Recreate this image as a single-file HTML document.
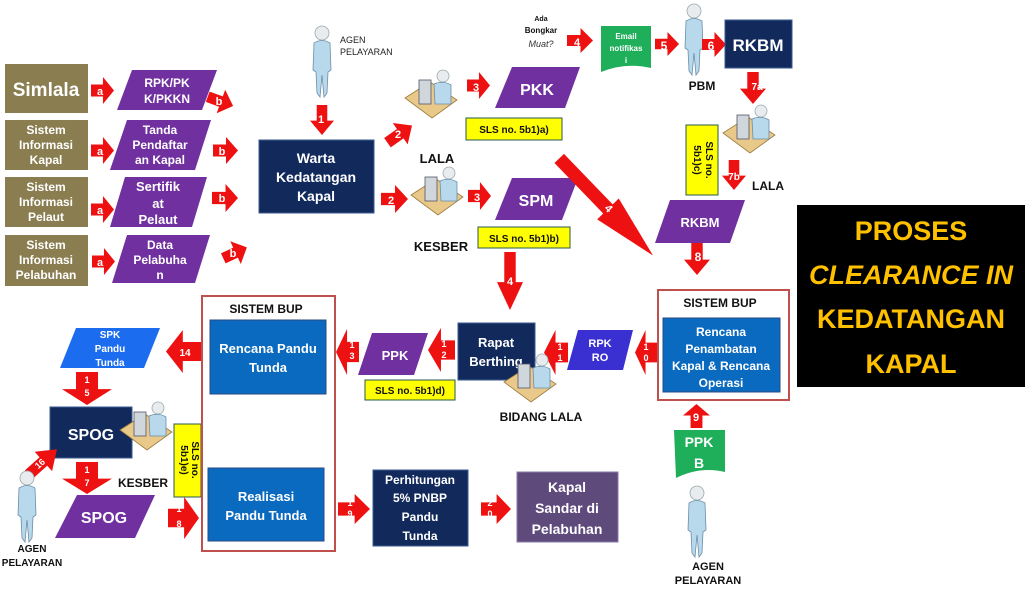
<!DOCTYPE html>
<html><head><meta charset="utf-8"><style>
html,body{margin:0;padding:0;background:#fff;width:1035px;height:594px;overflow:hidden}
svg{display:block;font-family:"Liberation Sans",sans-serif;font-weight:bold}
</style></head><body>
<svg width="1035" height="594" viewBox="0 0 1035 594" xmlns="http://www.w3.org/2000/svg">
<defs>
<path id="ar" d="M0,28 L52,28 L52,0 L100,50 L52,100 L52,72 L0,72 Z" fill="#ee1111"/>
<g id="pers">
 <circle cx="11" cy="8" r="7" fill="#e9ecef" stroke="#9aa" stroke-width="0.8"/>
 <path d="M3,18 Q11,13 19,18 L20,45 L17,47 L16,68 L13,72 L11,50 L9,72 L6,68 L5,47 L2,45 Z" fill="#b8d8ec" stroke="#6b8ea8" stroke-width="0.8"/>
</g>
<g id="comp">
 <path d="M0,30 L25,14 L52,32 L27,50 Z" fill="#e8c98a" stroke="#9b7a3c" stroke-width="0.8"/>
 <rect x="14" y="12" width="12" height="24" fill="#cfd6dc" stroke="#556" stroke-width="0.8"/>
 <circle cx="38" cy="8" r="6" fill="#e9ecef" stroke="#9aa" stroke-width="0.8"/>
 <path d="M29,16 Q38,12 46,17 L46,36 L30,36 Z" fill="#b8d8ec" stroke="#6b8ea8" stroke-width="0.8"/>
</g>
</defs>
<g font-size="12" fill="#fff" text-anchor="middle">
<g fill="#8a7d50"><rect x="5" y="64" width="83" height="49"/><rect x="5" y="120" width="83" height="50"/><rect x="5" y="177" width="83" height="50"/><rect x="5" y="235" width="83" height="51"/></g>
<text x="46" y="96" font-size="19">Simlala</text>
<text x="46" y="134">Sistem</text><text x="46" y="149">Informasi</text><text x="46" y="164">Kapal</text>
<text x="46" y="191">Sistem</text><text x="46" y="206">Informasi</text><text x="46" y="221">Pelaut</text>
<text x="46" y="249">Sistem</text><text x="46" y="264">Informasi</text><text x="46" y="279">Pelabuhan</text>
<g fill="#7030a0">
<polygon points="132,70 217,70 202,110 117,110"/><polygon points="127,120 211,120 195,170 110,170"/>
<polygon points="125,177 207,177 192,227 110,227"/><polygon points="127,235 210,235 195,283 112,283"/>
</g>
<text x="167" y="87">RPK/PK</text><text x="167" y="103">K/PKKN</text>
<text x="160" y="134">Tanda</text><text x="160" y="149">Pendaftar</text><text x="160" y="164">an Kapal</text>
<text x="158" y="191" font-size="13">Sertifik</text><text x="158" y="208" font-size="13">at</text><text x="158" y="224" font-size="13">Pelaut</text>
<text x="160" y="249">Data</text><text x="160" y="264">Pelabuha</text><text x="160" y="279">n</text>
<use href="#ar" transform="translate(91,77) scale(0.23,0.27)"/><use href="#ar" transform="translate(91,137) scale(0.23,0.27)"/>
<use href="#ar" transform="translate(91,196) scale(0.23,0.27)"/><use href="#ar" transform="translate(92,248) scale(0.23,0.27)"/>
<g font-size="11"><text x="100" y="95">a</text><text x="100" y="155">a</text><text x="100" y="214">a</text><text x="100" y="266">a</text></g>
<use href="#ar" transform="translate(212,85) rotate(20) scale(0.27,0.25)"/><use href="#ar" transform="translate(213,137) scale(0.25,0.27)"/>
<use href="#ar" transform="translate(212,184) scale(0.26,0.28)"/><use href="#ar" transform="translate(218,247) rotate(-25) scale(0.26,0.25)"/>
<g font-size="11"><text x="219" y="105">b</text><text x="222" y="155">b</text><text x="222" y="202">b</text><text x="233" y="257">b</text></g>
<rect x="259" y="140" width="115" height="73" fill="#12295c" stroke="#3a5a90"/>
<text x="316" y="163" font-size="14">Warta</text><text x="316" y="182" font-size="14">Kedatangan</text><text x="316" y="201" font-size="14">Kapal</text>
<use href="#pers" transform="translate(311,25)"/>
<text x="340" y="43" font-size="9" fill="#222" text-anchor="start" font-weight="normal">AGEN</text>
<text x="340" y="55" font-size="9" fill="#222" text-anchor="start" font-weight="normal">PELAYARAN</text>
<use href="#ar" transform="translate(334,105) rotate(90) scale(0.3,0.24)"/><text x="321" y="123" font-size="11">1</text>
<use href="#ar" transform="translate(380,132) rotate(-35) scale(0.3,0.26)"/><text x="398" y="138" font-size="11">2</text>
<use href="#ar" transform="translate(381,185) scale(0.27,0.28)"/><text x="391" y="204" font-size="11">2</text>
<use href="#comp" transform="translate(405,68)"/><use href="#comp" transform="translate(411,165)"/>
<text x="437" y="163" font-size="13" fill="#111">LALA</text>
<text x="441" y="251" font-size="13" fill="#111">KESBER</text>
<use href="#ar" transform="translate(467,72) scale(0.23,0.27)"/><text x="476" y="91" font-size="11">3</text>
<use href="#ar" transform="translate(468,182) scale(0.23,0.28)"/><text x="477" y="201" font-size="11">3</text>
<polygon points="512,67 580,67 565,108 495,108" fill="#7030a0"/><text x="537" y="95" font-size="16">PKK</text>
<polygon points="512,178 578,178 562,220 495,220" fill="#7030a0"/><text x="536" y="206" font-size="16">SPM</text>
<g fill="#ffff00" stroke="#2a5a50"><rect x="466" y="118" width="96" height="22"/><rect x="478" y="227" width="92" height="21"/>
<rect x="365" y="380" width="90" height="20"/><rect x="686" y="125" width="32" height="70"/><rect x="174" y="424" width="27" height="73"/></g>
<g fill="#111" font-size="10"><text x="514" y="133">SLS no. 5b1)a)</text><text x="524" y="242">SLS no. 5b1)b)</text><text x="410" y="394">SLS no. 5b1)d)</text>
<text transform="translate(706,160) rotate(90)" y="0">SLS no.</text><text transform="translate(694,160) rotate(90)">5b1)c)</text>
<text transform="translate(192,460) rotate(90)">SLS no.</text><text transform="translate(181,460) rotate(90)">5b1)e)</text></g>
<text x="541" y="21" font-size="7" fill="#111">Ada</text><text x="541" y="33" font-size="8" fill="#111">Bongkar</text>
<text x="541" y="47" font-size="9" fill="#333" font-style="italic" font-weight="normal">Muat?</text>
<use href="#ar" transform="translate(567,28) scale(0.26,0.25)"/><text x="577" y="46" font-size="11">4</text>
<path d="M601,26 L651,26 L651,68 Q626,62 601,72 Z" fill="#1fae5a"/>
<g font-size="8"><text x="626" y="39">Email</text><text x="626" y="51">notifikas</text><text x="626" y="63">i</text></g>
<use href="#ar" transform="translate(655,32) scale(0.24,0.24)"/><text x="664" y="50" font-size="12">5</text>
<use href="#pers" transform="translate(683,3)"/>
<text x="702" y="90" font-size="12" fill="#111">PBM</text>
<use href="#ar" transform="translate(702,32) scale(0.24,0.25)"/><text x="711" y="50" font-size="12">6</text>
<rect x="725" y="20" width="67" height="48" fill="#12295c" stroke="#3a5a90"/><text x="758" y="51" font-size="17">RKBM</text>
<use href="#ar" transform="translate(766,72) rotate(90) scale(0.32,0.26)"/><text x="757" y="90" font-size="10">7a</text>
<use href="#comp" transform="translate(723,103)"/>
<text x="768" y="190" font-size="12" fill="#111">LALA</text>
<use href="#ar" transform="translate(746,160) rotate(90) scale(0.3,0.24)"/><text x="734" y="180" font-size="10">7b</text>
<polygon points="670,200 745,200 730,243 655,243" fill="#7030a0"/><text x="700" y="227" font-size="13">RKBM</text>
<use href="#ar" transform="translate(710,243) rotate(90) scale(0.32,0.26)"/><text x="698" y="261" font-size="12">8</text>
<use href="#ar" transform="translate(570,148) rotate(46) scale(1.35,0.3)"/><text x="0" y="0" font-size="11" transform="translate(606,211) rotate(46)">4</text>
<use href="#ar" transform="translate(523,252) rotate(90) scale(0.58,0.26)"/><text x="510" y="285" font-size="11">4</text>
<rect x="658" y="290" width="131" height="110" fill="#fff" stroke="#c0504d" stroke-width="2"/>
<text x="720" y="307" font-size="12" fill="#111">SISTEM BUP</text>
<rect x="663" y="318" width="117" height="74" fill="#0a6abf" stroke="#2a4a80"/>
<g font-size="12"><text x="721" y="336">Rencana</text><text x="721" y="353">Penambatan</text><text x="721" y="370">Kapal &amp; Rencana</text><text x="721" y="387">Operasi</text></g>
<use href="#ar" transform="translate(683,428) rotate(-90) scale(0.24,0.27)"/><text x="696" y="421" font-size="11">9</text>
<path d="M674,430 L725,430 L725,472 Q700,466 676,478 Z" fill="#1fae5a"/>
<text x="699" y="447" font-size="14">PPK</text><text x="699" y="468" font-size="14">B</text>
<use href="#pers" transform="translate(686,485)"/>
<text x="708" y="570" font-size="11" fill="#111">AGEN</text><text x="708" y="584" font-size="11" fill="#111">PELAYARAN</text>
<use href="#ar" transform="translate(657,375) rotate(180) scale(0.22,0.45)"/><text x="646" y="350" font-size="9">1</text><text x="646" y="361" font-size="9">0</text>
<polygon points="578,330 633,330 623,370 567,370" fill="#3a2fd0"/><text x="600" y="347" font-size="11">RPK</text><text x="600" y="361" font-size="11">RO</text>
<use href="#ar" transform="translate(568,375) rotate(180) scale(0.24,0.45)"/><text x="560" y="350" font-size="9">1</text><text x="560" y="361" font-size="9">1</text>
<rect x="458" y="323" width="77" height="57" fill="#12295c" stroke="#3a5a90"/><text x="496" y="347" font-size="13">Rapat</text><text x="496" y="366" font-size="13">Berthing</text>
<use href="#comp" transform="translate(504,352)"/>
<text x="541" y="421" font-size="12" fill="#111">BIDANG LALA</text>
<use href="#ar" transform="translate(455,372) rotate(180) scale(0.27,0.44)"/><text x="444" y="347" font-size="9">1</text><text x="444" y="358" font-size="9">2</text>
<polygon points="372,333 428,333 414,375 358,375" fill="#7030a0"/><text x="395" y="360" font-size="13">PPK</text>
<use href="#ar" transform="translate(359,375) rotate(180) scale(0.23,0.46)"/><text x="352" y="348" font-size="9">1</text><text x="352" y="359" font-size="9">3</text>
<rect x="202" y="296" width="133" height="255" fill="#fff" stroke="#c0504d" stroke-width="2"/>
<text x="266" y="313" font-size="12" fill="#111">SISTEM BUP</text>
<rect x="210" y="320" width="116" height="74" fill="#0a6abf" stroke="#2a4a80"/><text x="268" y="353" font-size="13">Rencana Pandu</text><text x="268" y="372" font-size="13">Tunda</text>
<rect x="208" y="468" width="116" height="73" fill="#0a6abf" stroke="#2a4a80"/><text x="266" y="501" font-size="13">Realisasi</text><text x="266" y="520" font-size="13">Pandu Tunda</text>
<use href="#ar" transform="translate(201,373) rotate(180) scale(0.35,0.43)"/><text x="185" y="356" font-size="10">14</text>
<polygon points="76,328 160,328 144,368 60,368" fill="#1c6cf0"/><g font-size="10"><text x="110" y="338">SPK</text><text x="110" y="352">Pandu</text><text x="110" y="366">Tunda</text></g>
<use href="#ar" transform="translate(112,372) rotate(90) scale(0.33,0.5)"/><text x="87" y="383" font-size="9">1</text><text x="87" y="396" font-size="9">5</text>
<rect x="50" y="407" width="82" height="51" fill="#12295c" stroke="#3a5a90"/><text x="91" y="440" font-size="16">SPOG</text>
<use href="#comp" transform="translate(120,400)"/>
<use href="#ar" transform="translate(20,465) rotate(-42) scale(0.38,0.26)"/><text x="0" y="0" font-size="9" transform="translate(42,466) rotate(-42)">16</text>
<use href="#pers" transform="translate(16,470)"/>
<text x="32" y="552" font-size="10" fill="#111">AGEN</text><text x="32" y="566" font-size="10" fill="#111">PELAYARAN</text>
<use href="#ar" transform="translate(112,462) rotate(90) scale(0.32,0.5)"/><text x="87" y="473" font-size="9">1</text><text x="87" y="486" font-size="9">7</text>
<text x="143" y="487" font-size="12" fill="#111">KESBER</text>
<polygon points="77,495 155,495 135,538 55,538" fill="#7030a0"/><text x="104" y="523" font-size="16">SPOG</text>
<use href="#ar" transform="translate(168,497) scale(0.31,0.42)"/><text x="179" y="512" font-size="9">1</text><text x="179" y="527" font-size="9">8</text>
<use href="#ar" transform="translate(338,494) scale(0.32,0.3)"/><text x="350" y="506" font-size="9">1</text><text x="350" y="517" font-size="9">9</text>
<rect x="373" y="470" width="95" height="76" fill="#12295c" stroke="#3a5a90"/>
<g font-size="12"><text x="420" y="484">Perhitungan</text><text x="420" y="502">5% PNBP</text><text x="420" y="521">Pandu</text><text x="420" y="540">Tunda</text></g>
<use href="#ar" transform="translate(481,494) scale(0.3,0.3)"/><text x="490" y="506" font-size="9">2</text><text x="490" y="517" font-size="9">0</text>
<rect x="517" y="472" width="101" height="70" fill="#5f4a7c" stroke="#8a7aa8"/>
<g font-size="14"><text x="567" y="492">Kapal</text><text x="567" y="513">Sandar di</text><text x="567" y="534">Pelabuhan</text></g>
<rect x="797" y="205" width="228" height="182" fill="#000"/>
<g fill="#ffc000" font-size="27"><text x="911" y="240">PROSES</text><text x="911" y="284" font-style="italic">CLEARANCE IN</text><text x="911" y="328">KEDATANGAN</text><text x="911" y="373">KAPAL</text></g>
</g>
</svg>
</body></html>
